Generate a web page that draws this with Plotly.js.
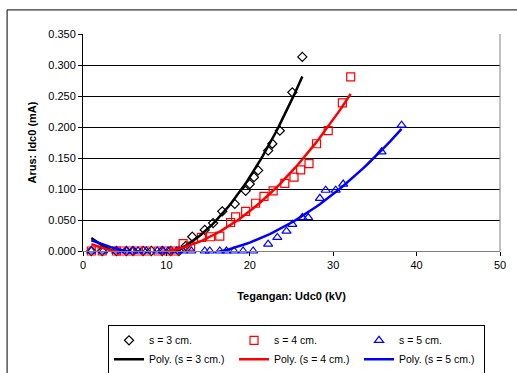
<!DOCTYPE html>
<html>
<head>
<meta charset="utf-8">
<script src="https://cdn.plot.ly/plotly-3.0.1.min.js"></script>
<style>html,body{margin:0;padding:0;background:#fff;}#chart{width:517px;height:373px;}</style>
</head>
<body>
<div id="chart"></div>
<script>
// s = 3 cm
var x3 = [1, 2.3, 4, 5.2, 6, 7.2, 8.2, 9.5, 10.5, 11.5, 12.3, 13.1, 14.6, 15.6, 16.7, 18.2, 19.5, 20.0, 20.5, 21.0, 22.2, 22.7, 23.6, 25.1, 26.3];
var y3 = [0, 0, 0, 0, 0, 0, 0, 0, 0, 0, 0.008, 0.023, 0.034, 0.045, 0.064, 0.076, 0.097, 0.108, 0.119, 0.130, 0.162, 0.173, 0.194, 0.256, 0.313];
// s = 4 cm
var x4 = [1, 2.3, 4, 4.6, 5.6, 6.6, 7.6, 9.0, 10.2, 11.0, 12.0, 12.9, 14.2, 15.3, 16.4, 17.7, 18.3, 19.5, 20.7, 21.7, 22.8, 24.2, 25.3, 26.1, 27.1, 28.0, 29.4, 31.1, 32.1];
var y4 = [0, 0, 0, 0, 0, 0, 0, 0, 0, 0, 0.012, 0.008, 0.022, 0.023, 0.024, 0.046, 0.055, 0.064, 0.077, 0.088, 0.097, 0.109, 0.119, 0.131, 0.141, 0.173, 0.194, 0.239, 0.281];
// s = 5 cm
var x5 = [1, 2.4, 4, 5.2, 6, 6.6, 7.6, 8.9, 9.6, 10.2, 11.2, 12, 13, 14.6, 15.2, 16.4, 17.2, 18.1, 19.2, 20.4, 22.2, 23.3, 24.4, 25.1, 26.3, 27.0, 28.4, 29.1, 30.3, 31.2, 35.8, 38.2];
var y5 = [0, 0, 0, 0, 0, 0, 0, 0, 0, 0, 0, 0, 0, 0, 0, 0, 0, 0, 0, 0, 0.011, 0.022, 0.032, 0.043, 0.054, 0.054, 0.085, 0.098, 0.098, 0.108, 0.160, 0.203];

var names = ['s = 3 cm.', 's = 4 cm.', 's = 5 cm.'];
var polyNames = ['Poly. (s = 3 cm.)', 'Poly. (s = 4 cm.)', 'Poly. (s = 5 cm.)'];
var colors = ['#000000', '#ff0000', '#0000ff'];
var symbols = ['diamond-open', 'square-open', 'triangle-up-open'];

// second order least-squares fit (Excel polynomial trendline)
function polyfit2(xs, ys) {
  var n = xs.length, s = [0,0,0,0,0], t = [0,0,0];
  for (var i = 0; i < n; i++) {
    var p = 1;
    for (var k = 0; k <= 4; k++) { s[k] += p; if (k <= 2) t[k] += p * ys[i]; p *= xs[i]; }
  }
  var A = [[s[0], s[1], s[2], t[0]], [s[1], s[2], s[3], t[1]], [s[2], s[3], s[4], t[2]]];
  for (var c = 0; c < 3; c++) {
    for (var r = c + 1; r < 3; r++) {
      var f = A[r][c] / A[c][c];
      for (var j = c; j < 4; j++) A[r][j] -= f * A[c][j];
    }
  }
  var b = [0,0,0];
  for (var r2 = 2; r2 >= 0; r2--) {
    var v = A[r2][3];
    for (var j2 = r2 + 1; j2 < 3; j2++) v -= A[r2][j2] * b[j2];
    b[r2] = v / A[r2][r2];
  }
  return b;
}
function trend(xs, ys) {
  var b = polyfit2(xs, ys), lo = Math.min.apply(null, xs), hi = Math.max.apply(null, xs);
  var tx = [], ty = [];
  for (var i = 0; i <= 80; i++) { var x = lo + (hi - lo) * i / 80; tx.push(x); ty.push(b[0] + b[1] * x + b[2] * x * x); }
  return {x: tx, y: ty};
}

var xs = [x3, x4, x5], ys = [y3, y4, y5];
var data = [];
for (var i = 0; i < 3; i++) {
  data.push({x: xs[i], y: ys[i], type: 'scatter', mode: 'markers', name: names[i],
    marker: {symbol: symbols[i], color: colors[i], size: i === 0 ? 7 : 8, line: {width: 1.2, color: colors[i]}}, cliponaxis: false});
}
for (var i2 = 0; i2 < 3; i2++) {
  var tr = trend(xs[i2], ys[i2]);
  data.push({x: tr.x, y: tr.y, type: 'scatter', mode: 'lines', name: polyNames[i2],
    line: {color: colors[i2], width: 2.5}, cliponaxis: false});
}

var layout = {
  width: 517, height: 373,
  margin: {l: 83, r: 17, t: 34, b: 122, autoexpand: false},
  paper_bgcolor: '#ffffff', plot_bgcolor: '#ffffff',
  font: {family: 'Liberation Sans, Arial, sans-serif', size: 11, color: '#000'},
  showlegend: true,
  xaxis: {range: [0, 50], dtick: 10, showgrid: false, zeroline: false,
    ticks: 'outside', ticklen: 4, tickcolor: '#000', showline: true, linecolor: '#808080', linewidth: 1,
    tickfont: {size: 11},
    title: {text: 'Tegangan: Udc0 (kV)', font: {size: 11, weight: 'bold'}, standoff: 22}},
  yaxis: {range: [0, 0.35], dtick: 0.05, tickformat: '.3f', showgrid: true, gridcolor: '#000', gridwidth: 1,
    zeroline: false, ticks: 'outside', ticklen: 4, tickcolor: '#000', showline: true, linecolor: '#000', linewidth: 1,
    tickfont: {size: 11},
    title: {text: 'Arus: Idc0 (mA)', font: {size: 11, weight: 'bold'}, standoff: 9}},
  legend: {orientation: 'h', x: 0.06, xanchor: 'left', y: -0.34, yanchor: 'top',
    bordercolor: '#000', borderwidth: 1, bgcolor: '#fff',
    entrywidth: 80, entrywidthmode: 'pixels', itemwidth: 30,
    font: {family: 'Liberation Sans, Arial, sans-serif', size: 10.5}},
  shapes: [
    {type: 'line', xref: 'paper', yref: 'paper', x0: 1, x1: 1, y0: 0, y1: 1, line: {color: '#808080', width: 1}},
    {type: 'rect', xref: 'paper', yref: 'paper', x0: -0.182, x1: 1.06, y0: -0.62, y1: 1.111, line: {color: '#000', width: 1}}
  ]
};
Plotly.newPlot('chart', data, layout, {displayModeBar: false, staticPlot: true});
</script>
</body>
</html>
